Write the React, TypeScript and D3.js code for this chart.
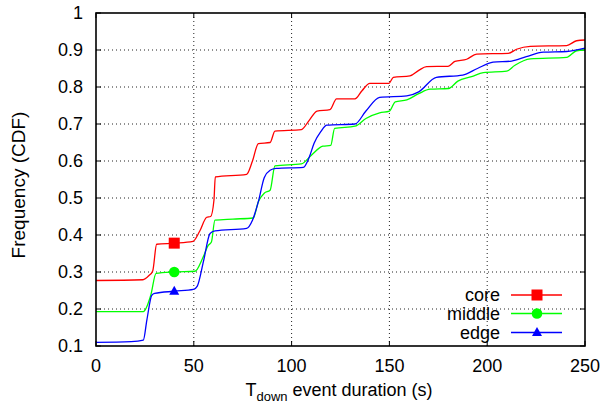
import React from "react";
import * as d3 from "d3";

const xTicks = [0, 50, 100, 150, 200, 250];
const yTicks = [0.1, 0.2, 0.3, 0.4, 0.5, 0.6, 0.7, 0.8, 0.9, 1];

const coreX = [0, 24, 27, 29, 31, 40, 49.6, 53, 56.6, 58.6, 60.3, 61, 77, 80, 83, 89, 91.5, 105, 109, 113, 119.6, 123, 132.4, 136, 140, 149.8, 152, 160.5, 165, 169, 180, 183.5, 189.5, 194.6, 210.8, 215, 222, 240.6, 245.7, 250];
const coreY = [0.277, 0.279, 0.29, 0.303, 0.375, 0.378, 0.383, 0.41, 0.448, 0.45, 0.494, 0.557, 0.564, 0.6, 0.647, 0.65, 0.681, 0.685, 0.71, 0.735, 0.739, 0.768, 0.768, 0.79, 0.81, 0.81, 0.826, 0.83, 0.845, 0.855, 0.856, 0.869, 0.875, 0.889, 0.891, 0.902, 0.91, 0.912, 0.925, 0.927];

const middleX = [0, 24.2, 28, 30.7, 40, 50.6, 54.5, 57.4, 59, 60.8, 70, 80.4, 83, 86, 89, 91.5, 105, 110, 116, 120, 122, 132.4, 138, 145, 150, 153, 158.9, 165, 170.8, 180.2, 185, 192, 198, 210, 214, 222, 240.6, 245.7, 250];
const middleY = [0.193, 0.193, 0.237, 0.296, 0.3, 0.302, 0.337, 0.372, 0.381, 0.44, 0.443, 0.446, 0.49, 0.513, 0.521, 0.587, 0.592, 0.615, 0.64, 0.642, 0.688, 0.694, 0.715, 0.73, 0.735, 0.76, 0.765, 0.782, 0.794, 0.796, 0.816, 0.828, 0.839, 0.843, 0.858, 0.876, 0.88, 0.898, 0.9];

const edgeX = [0, 18, 24.2, 26, 28.5, 30, 40, 49.8, 51.8, 55, 58.3, 60.8, 77, 80, 83, 86, 89, 92, 106, 109, 111.5, 115, 118, 132.4, 138, 145, 158.9, 165, 174, 187.5, 195, 203, 212.5, 220, 228.7, 240.6, 250];
const edgeY = [0.11, 0.112, 0.116, 0.17, 0.237, 0.242, 0.248, 0.253, 0.262, 0.33, 0.404, 0.411, 0.418, 0.44, 0.49, 0.555, 0.575, 0.58, 0.583, 0.61, 0.648, 0.68, 0.697, 0.7, 0.735, 0.772, 0.776, 0.787, 0.826, 0.832, 0.85, 0.867, 0.87, 0.882, 0.894, 0.896, 0.905];

const seriesNames = ["core", "middle", "edge"];
const seriesColors = ["#ff0000", "#00ff00", "#0000ff"];
const markerX = 40;

const W = 605, H = 405;
const L = 96, R = 585, T = 13, B = 346;
const FONT = "'Liberation Sans', Arial, sans-serif";
const FS = 18;

function Marker({ kind, x, y, color }: { kind: string; x: number; y: number; color: string }) {
  if (kind === "core") return <rect x={x - 5.5} y={y - 5.5} width={11} height={11} fill={color} />;
  if (kind === "middle") return <circle cx={x} cy={y} r={5.3} fill={color} />;
  return <path d={`M${x},${y - 5.5}L${x + 5},${y + 3.5}L${x - 5},${y + 3.5}Z`} fill={color} />;
}

export default function App() {
  const x = d3.scaleLinear().domain([0, 250]).range([L, R]);
  const y = d3.scaleLinear().domain([0.1, 1]).range([B, T]);
  const line = d3
    .line<[number, number]>()
    .x((d) => x(d[0]))
    .y((d) => y(d[1]))
    .curve(d3.curveMonotoneX);
  const data: [number, number][][] = [
    coreX.map((v, i) => [v, coreY[i]] as [number, number]),
    middleX.map((v, i) => [v, middleY[i]] as [number, number]),
    edgeX.map((v, i) => [v, edgeY[i]] as [number, number]),
  ];
  const legendY = [295, 313.5, 332.5];

  return (
    <svg width={W} height={H} style={{ position: "absolute", left: 0, top: 0 }} fontFamily={FONT}>
      <rect width={W} height={H} fill="#fff" />
      <defs>
        <clipPath id="plot">
          <rect x={L} y={T} width={R - L} height={B - T} />
        </clipPath>
      </defs>
      {/* grid */}
      {xTicks.slice(1, -1).map((t) => (
        <line key={"gx" + t} x1={x(t)} x2={x(t)} y1={T} y2={B} stroke="#222" strokeWidth={1} strokeDasharray="1,3" />
      ))}
      {yTicks.slice(1, -1).map((t) => (
        <line key={"gy" + t} x1={L} x2={R} y1={y(t)} y2={y(t)} stroke="#222" strokeWidth={1} strokeDasharray="1,3" />
      ))}
      {/* ticks */}
      {xTicks.map((t) => (
        <g key={"tx" + t}>
          <line x1={x(t)} x2={x(t)} y1={B} y2={B - 5} stroke="#000" />
          <line x1={x(t)} x2={x(t)} y1={T} y2={T + 5} stroke="#000" />
          <text x={x(t)} y={372} textAnchor="middle" fontSize={FS} fill="#000">
            {t}
          </text>
        </g>
      ))}
      {yTicks.map((t) => (
        <g key={"ty" + t}>
          <line x1={L} x2={L + 5} y1={y(t)} y2={y(t)} stroke="#000" />
          <line x1={R} x2={R - 5} y1={y(t)} y2={y(t)} stroke="#000" />
          <text x={83} y={y(t)} dy="0.35em" textAnchor="end" fontSize={FS} fill="#000">
            {d3.format("~g")(t)}
          </text>
        </g>
      ))}
      {/* lines */}
      <g clipPath="url(#plot)">
        {data.map((d, i) => (
          <path key={i} d={line(d) || ""} fill="none" stroke={seriesColors[i]} strokeWidth={1.3} />
        ))}
      </g>
      {data.map((d, i) => {
        const p = d.find((q) => q[0] === markerX)!;
        return <Marker key={"m" + i} kind={seriesNames[i]} x={x(p[0])} y={y(p[1])} color={seriesColors[i]} />;
      })}
      {/* border */}
      <rect x={L} y={T} width={R - L} height={B - T} fill="none" stroke="#000" strokeWidth={1.6} />
      {/* legend */}
      {seriesNames.map((n, i) => (
        <g key={"lg" + n}>
          <text x={500} y={legendY[i]} dy="0.35em" textAnchor="end" fontSize={FS} fill="#000">
            {n}
          </text>
          <line x1={511} x2={562} y1={legendY[i]} y2={legendY[i]} stroke={seriesColors[i]} strokeWidth={1.3} />
          <Marker kind={n} x={537} y={legendY[i]} color={seriesColors[i]} />
        </g>
      ))}
      {/* axis titles */}
      <text x={339} y={396} textAnchor="middle" fontSize={FS} fill="#000">
        T<tspan dy={4.5} fontSize={13}>down</tspan>
        <tspan dy={-4.5}> event duration (s)</tspan>
      </text>
      <text transform={`translate(25,185) rotate(-90)`} textAnchor="middle" fontSize={19} fill="#000">
        Frequency (CDF)
      </text>
    </svg>
  );
}
